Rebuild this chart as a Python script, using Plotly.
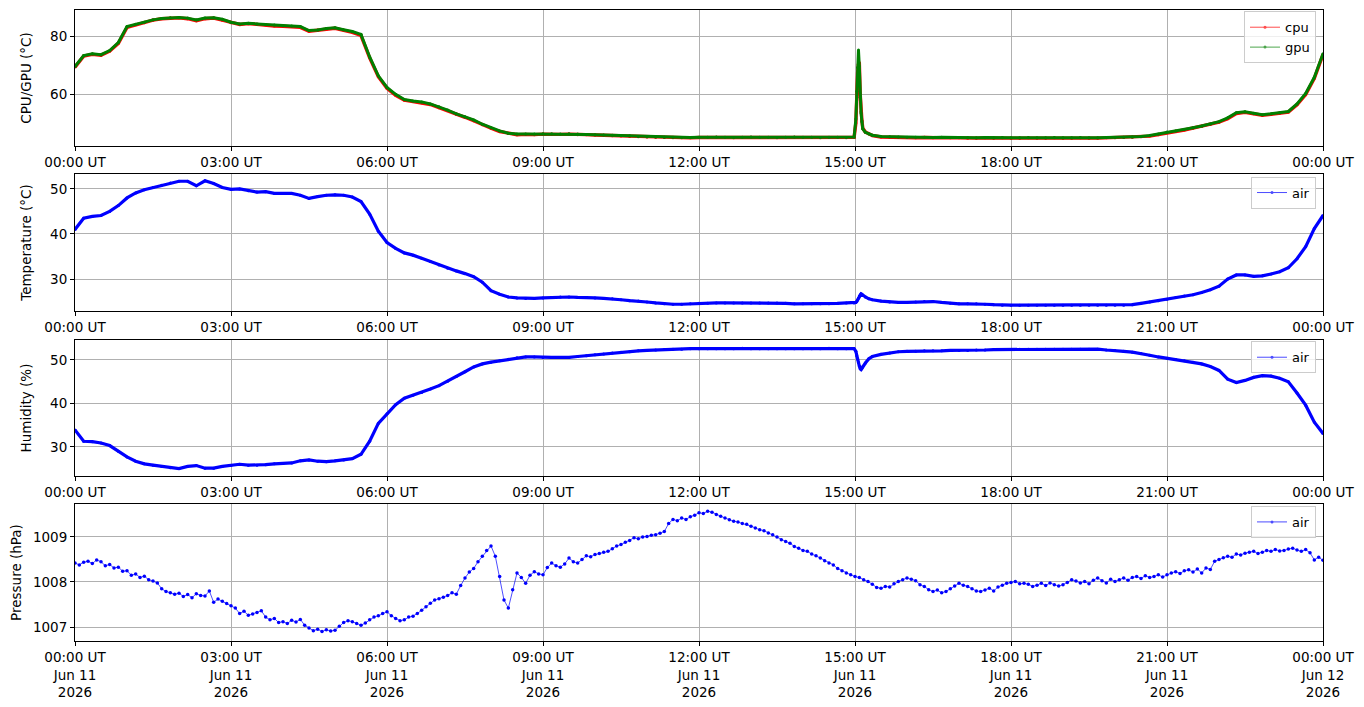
import pandas as pd
import plotly.graph_objects as go

# sample times in minutes after 00:00 UT (10 min steps, denser around the 15:00 spike)
minutes = (list(range(0, 900, 10))
           + [899, 901, 902, 903, 904, 905, 906, 907, 908, 909, 912, 916, 920]
           + list(range(930, 1441, 10)))

cpu = [69.3, 73.1, 73.7, 73.4, 74.8, 77.5,
       83.0, 83.9, 84.6, 85.5, 86.0, 86.2,
       86.3, 86.0, 85.3, 86.0, 86.2, 85.5,
       84.6, 84.0, 84.3, 84.0, 83.8, 83.5,
       83.4, 83.3, 83.0, 81.7, 82.0, 82.4,
       82.7, 82.0, 81.3, 80.2, 72.5, 66.0,
       62.0, 59.6, 57.9, 57.4, 57.0, 56.4,
       55.3, 54.3, 53.0, 52.0, 50.8, 49.4,
       48.2, 47.1, 46.4, 46.0, 46.1, 46.0,
       46.2, 46.1, 46.1, 46.2, 46.0, 46.0,
       45.9, 45.8, 45.6, 45.5, 45.4, 45.3,
       45.2, 45.1, 45.0, 44.9, 44.9, 44.9,
       45.0, 45.0, 45.1, 45.0, 44.9, 45.0,
       45.1, 45.0, 45.0, 44.9, 45.0, 45.1,
       45.0, 45.0, 44.9, 45.0, 45.0, 44.9,
       45.1, 50.0, 60.5, 67.5, 70.3, 70.9, 60.0, 54.0, 50.8, 48.2, 46.9, 46.3, 45.7,
       45.2, 45.1, 45.0,
       45.0, 44.9, 45.0, 44.9, 45.0, 44.9,
       44.9, 44.8, 44.8, 44.9, 44.8, 44.9,
       44.8, 44.8, 44.9, 44.8, 44.8, 44.9,
       44.8, 44.8, 44.9, 44.8, 44.8, 44.9,
       44.9, 45.0, 45.1, 45.3, 45.5, 46.0,
       46.7, 47.1, 47.6, 48.2, 48.8, 49.5,
       50.3, 51.5, 53.3, 53.7, 53.2, 52.7,
       53.0, 53.4, 53.8, 56.3, 59.8, 65.4,
       73.6]

gpu = [69.5, 73.3, 73.9, 73.6, 75.0, 77.8,
       83.3, 84.1, 84.8, 85.6, 86.1, 86.3,
       86.4, 86.2, 85.6, 86.2, 86.3, 85.8,
       84.8, 84.2, 84.4, 84.2, 84.0, 83.8,
       83.6, 83.5, 83.3, 81.9, 82.1, 82.6,
       82.9, 82.2, 81.6, 80.6, 72.8, 66.3,
       62.3, 59.9, 58.1, 57.6, 57.3, 56.6,
       55.6, 54.5, 53.2, 52.2, 51.1, 49.6,
       48.4, 47.3, 46.5, 46.2, 46.2, 46.2,
       46.3, 46.3, 46.2, 46.3, 46.2, 46.1,
       46.0, 45.9, 45.8, 45.7, 45.6, 45.4,
       45.3, 45.2, 45.1, 45.1, 45.0, 45.0,
       45.1, 45.1, 45.2, 45.1, 45.0, 45.1,
       45.2, 45.1, 45.1, 45.0, 45.1, 45.2,
       45.1, 45.1, 45.0, 45.1, 45.1, 45.0,
       45.2, 51.4, 61.0, 69.2, 75.2, 69.6, 58.9, 53.5, 50.5, 48.0, 46.8, 46.2, 45.8,
       45.4, 45.3, 45.2,
       45.1, 45.1, 45.1, 45.0, 45.1, 45.0,
       45.0, 45.0, 44.9, 45.0, 44.9, 45.0,
       44.9, 44.9, 45.0, 44.9, 44.9, 45.0,
       44.9, 44.9, 45.0, 44.9, 44.9, 45.0,
       45.0, 45.1, 45.2, 45.4, 45.7, 46.2,
       46.9, 47.3, 47.8, 48.4, 49.0, 49.7,
       50.5, 51.8, 53.6, 53.9, 53.4, 52.9,
       53.2, 53.6, 54.0, 56.6, 60.2, 65.8,
       73.9]

air_temp = [41.0, 43.5, 43.9, 44.1, 45.0, 46.3,
            48.0, 49.1, 49.8, 50.3, 50.8, 51.3,
            51.7, 51.7, 50.7, 51.8, 51.2, 50.3,
            49.9, 50.0, 49.6, 49.3, 49.4, 49.0,
            49.0, 49.0, 48.6, 47.9, 48.3, 48.6,
            48.7, 48.6, 48.2, 47.2, 44.4, 40.6,
            38.1, 36.8, 35.8, 35.3, 34.6, 33.9,
            33.1, 32.4, 31.8, 31.2, 30.5, 29.3,
            27.4, 26.6, 26.0, 25.8, 25.7, 25.7,
            25.8, 25.9, 26.0, 26.0, 25.9, 25.9,
            25.8, 25.7, 25.6, 25.4, 25.2, 25.1,
            24.9, 24.7, 24.5, 24.4, 24.4, 24.5,
            24.6, 24.6, 24.7, 24.7, 24.7, 24.7,
            24.7, 24.7, 24.7, 24.7, 24.6, 24.5,
            24.5, 24.5, 24.5, 24.5, 24.6, 24.7,
            24.7, 24.8, 25.0, 25.4, 25.8, 26.2, 26.5, 26.7, 26.6, 26.4, 26.0, 25.6, 25.4,
            25.1, 24.9, 24.8,
            24.8, 24.9, 25.0, 25.0, 24.8, 24.6,
            24.5, 24.5, 24.5, 24.4, 24.3, 24.2,
            24.2, 24.2, 24.2, 24.2, 24.2, 24.2,
            24.2, 24.2, 24.2, 24.2, 24.2, 24.2,
            24.2, 24.2, 24.3, 24.6, 24.9, 25.2,
            25.5, 25.9, 26.2, 26.5, 27.0, 27.6,
            28.4, 30.0, 30.9, 30.9, 30.6, 30.7,
            31.1, 31.6, 32.5, 34.5, 37.2, 41.2,
            44.1]

humidity = [33.9, 31.3, 31.2, 30.9, 30.3, 29.0,
            27.7, 26.7, 26.1, 25.8, 25.5, 25.2,
            25.0, 25.5, 25.7, 25.1, 25.1, 25.5,
            25.7, 26.0, 25.8, 25.8, 25.9, 26.1,
            26.2, 26.3, 26.8, 27.0, 26.7, 26.6,
            26.8, 27.0, 27.3, 28.3, 31.3, 35.4,
            37.6, 39.7, 41.2, 41.9, 42.5, 43.3,
            44.1, 45.1, 46.2, 47.3, 48.4, 49.1,
            49.5, 49.8, 50.2, 50.5, 50.7, 50.7,
            50.6, 50.6, 50.6, 50.6, 50.8, 51.0,
            51.2, 51.4, 51.6, 51.8, 51.9, 52.1,
            52.2, 52.3, 52.4, 52.5, 52.5, 52.6,
            52.6, 52.6, 52.6, 52.6, 52.6, 52.7,
            52.6, 52.6, 52.6, 52.6, 52.6, 52.6,
            52.6, 52.6, 52.6, 52.7, 52.6, 52.6,
            52.6, 52.0, 51.0, 50.2, 49.4, 48.6, 48.0, 47.8, 48.1, 48.5, 49.3, 50.3, 50.8,
            51.3, 51.6, 51.9,
            52.0, 52.0, 52.1, 52.1, 52.1, 52.2,
            52.2, 52.2, 52.3, 52.3, 52.4, 52.4,
            52.4, 52.5, 52.5, 52.5, 52.5, 52.5,
            52.5, 52.5, 52.5, 52.5, 52.5, 52.3,
            52.2, 52.0, 51.8, 51.5, 51.1, 50.7,
            50.4, 50.1, 49.8, 49.5, 49.1, 48.5,
            47.6, 45.6, 44.8, 45.3, 46.0, 46.4,
            46.3, 45.8, 45.0, 42.4, 39.6, 35.7,
            33.1]

# pressure read every 5 minutes
pressure_minutes = list(range(0, 1441, 5))
pressure = [1008.42, 1008.38, 1008.44, 1008.46, 1008.41, 1008.49, 1008.45, 1008.36, 1008.39, 1008.31, 1008.33, 1008.24,
            1008.25, 1008.15, 1008.18, 1008.10, 1008.13, 1008.05, 1008.02, 1007.98, 1007.85, 1007.79, 1007.76, 1007.73,
            1007.75, 1007.68, 1007.72, 1007.65, 1007.74, 1007.70, 1007.69, 1007.80, 1007.55, 1007.62, 1007.57, 1007.52,
            1007.47, 1007.42, 1007.30, 1007.35, 1007.26, 1007.29, 1007.32, 1007.36, 1007.22, 1007.16, 1007.19, 1007.10,
            1007.12, 1007.08, 1007.15, 1007.11, 1007.17, 1007.04, 1006.98, 1006.92, 1006.95, 1006.90, 1006.94, 1006.91,
            1006.93, 1007.02, 1007.10, 1007.14, 1007.12, 1007.08, 1007.04, 1007.09, 1007.16, 1007.22, 1007.25, 1007.30,
            1007.34, 1007.25, 1007.19, 1007.14, 1007.16, 1007.22, 1007.24, 1007.30, 1007.37, 1007.45, 1007.53, 1007.60,
            1007.63, 1007.66, 1007.70, 1007.76, 1007.73, 1007.92, 1008.09, 1008.22, 1008.30, 1008.45, 1008.57, 1008.70,
            1008.80, 1008.57, 1008.12, 1007.60, 1007.42, 1007.83, 1008.20, 1008.10, 1007.97, 1008.15, 1008.23, 1008.18,
            1008.16, 1008.32, 1008.42, 1008.36, 1008.33, 1008.40, 1008.53, 1008.45, 1008.42, 1008.50, 1008.58, 1008.56,
            1008.61, 1008.63, 1008.66, 1008.68, 1008.74, 1008.80, 1008.83, 1008.88, 1008.92, 1008.98, 1008.96, 1009.00,
            1009.01, 1009.04, 1009.05, 1009.08, 1009.12, 1009.30, 1009.39, 1009.36, 1009.42, 1009.39, 1009.45, 1009.48,
            1009.54, 1009.52, 1009.57, 1009.55, 1009.50, 1009.46, 1009.42, 1009.38, 1009.35, 1009.33, 1009.30, 1009.28,
            1009.24, 1009.20, 1009.16, 1009.14, 1009.09, 1009.05, 1009.00, 1008.94, 1008.90, 1008.86, 1008.79, 1008.75,
            1008.70, 1008.68, 1008.62, 1008.58, 1008.53, 1008.47, 1008.42, 1008.38, 1008.30, 1008.25, 1008.20, 1008.16,
            1008.12, 1008.10, 1008.05, 1008.01, 1007.95, 1007.88, 1007.86, 1007.90, 1007.89, 1007.96, 1008.01, 1008.05,
            1008.09, 1008.06, 1008.03, 1007.94, 1007.90, 1007.83, 1007.79, 1007.82, 1007.76, 1007.79, 1007.85, 1007.91,
            1007.97, 1007.93, 1007.90, 1007.85, 1007.80, 1007.79, 1007.82, 1007.86, 1007.80, 1007.89, 1007.93, 1007.97,
            1007.99, 1008.01, 1007.96, 1007.97, 1007.95, 1007.90, 1007.93, 1007.97, 1007.92, 1007.98, 1007.94, 1007.91,
            1007.94, 1007.99, 1008.05, 1008.02, 1007.98, 1008.01, 1007.96, 1008.04, 1008.09, 1008.03, 1007.98, 1008.06,
            1008.01, 1008.05, 1008.09, 1008.04, 1008.10, 1008.12, 1008.08, 1008.14, 1008.10, 1008.12, 1008.16, 1008.11,
            1008.16, 1008.20, 1008.23, 1008.19, 1008.25, 1008.27, 1008.22, 1008.29, 1008.20, 1008.31, 1008.28, 1008.46,
            1008.50, 1008.54, 1008.57, 1008.55, 1008.62, 1008.60, 1008.64, 1008.66, 1008.68, 1008.63, 1008.66, 1008.70,
            1008.68, 1008.72, 1008.69, 1008.70, 1008.73, 1008.75, 1008.71, 1008.68, 1008.72, 1008.65, 1008.49, 1008.55,
            1008.48]

tick_hours = [0, 3, 6, 9, 12, 15, 18, 21, 24]
tick_text = ["00:00 UT", "03:00 UT", "06:00 UT", "09:00 UT", "12:00 UT",
             "15:00 UT", "18:00 UT", "21:00 UT", "00:00 UT"]
tick_dates = ["Jun 11", "Jun 11", "Jun 11", "Jun 11", "Jun 11",
              "Jun 11", "Jun 11", "Jun 11", "Jun 12"]
tick_year = "2026"

day = pd.Timestamp("2026-06-11 00:00")
t = day + pd.to_timedelta(minutes, unit="m")
tp = day + pd.to_timedelta(pressure_minutes, unit="m")
tick_vals = [day + pd.Timedelta(hours=h) for h in tick_hours]

FONT = "DejaVu Sans, Liberation Sans, sans-serif"
RED, GREEN, BLUE = "#ff0000", "#008000", "#0000ff"

fig = go.Figure()


def add_series(x, y, color, name, axis, legend, width, msize):
    fig.add_trace(go.Scatter(x=x, y=y, mode="lines+markers", name=name,
                             line=dict(color=color, width=width),
                             marker=dict(color=color, size=msize),
                             xaxis="x" + axis, yaxis="y" + axis,
                             showlegend=False))
    # thin entry for the legend only
    fig.add_trace(go.Scatter(x=[None], y=[None], mode="lines+markers", name=name,
                             line=dict(color=color, width=1), opacity=0.7,
                             marker=dict(color=color, size=3),
                             xaxis="x" + axis, yaxis="y" + axis,
                             legend=legend))


add_series(t, cpu, RED, "cpu", "", "legend", 3.4, 3)
add_series(t, gpu, GREEN, "gpu", "", "legend", 3, 3)
add_series(t, air_temp, BLUE, "air", "2", "legend2", 3.2, 3)
add_series(t, humidity, BLUE, "air", "3", "legend3", 3.2, 3)
add_series(tp, pressure, BLUE, "air", "4", "legend4", 0.7, 3.5)

domains = [[0.7845, 1.0], [0.523, 0.740], [0.2615, 0.477], [0.0, 0.217]]
y_ranges = [[42.1, 89.0], [22.9, 53.3], [23.3, 54.6], [1006.69, 1009.73]]
y_ticks = [[60, 80], [30, 40, 50], [30, 40, 50], [1007, 1008, 1009]]
y_titles = ["CPU/GPU (°C)", "Temperature (°C)", "Humidity (%)", "Pressure (hPa)"]
legend_tops = [0.998, 0.736, 0.475, 0.214]

# the page body adds an 8px margin, so the figure is trimmed by that much
layout = dict(width=1348, height=691, plot_bgcolor="white", paper_bgcolor="white",
              margin=dict(l=67, r=33, t=2, b=58),
              font=dict(family=FONT, size=13.5, color="black"))

for i in range(4):
    sfx = "" if i == 0 else str(i + 1)
    if i == 3:
        text = [f"{a}<br>{d}<br>{tick_year}" for a, d in zip(tick_text, tick_dates)]
    else:
        text = tick_text
    layout["xaxis" + sfx] = dict(
        domain=[0, 1], anchor="y" + sfx, type="date", automargin=False,
        range=[tick_vals[0], tick_vals[-1]],
        tickvals=tick_vals, ticktext=text,
        showgrid=True, gridcolor="#b0b0b0", gridwidth=1,
        showline=True, linecolor="black", linewidth=1, mirror=True,
        ticks="outside", ticklen=4, tickcolor="black", zeroline=False)
    layout["yaxis" + sfx] = dict(
        domain=domains[i], anchor="x" + sfx, range=y_ranges[i], automargin=False,
        tickvals=y_ticks[i], title=dict(text=y_titles[i], font=dict(size=13.5)),
        showgrid=True, gridcolor="#b0b0b0", gridwidth=1,
        showline=True, linecolor="black", linewidth=1, mirror=True,
        ticks="outside", ticklen=4, tickcolor="black", zeroline=False)
    layout["legend" + sfx] = dict(
        x=0.9944, y=legend_tops[i], xanchor="right", yanchor="top",
        bgcolor="rgba(255,255,255,0.8)", bordercolor="#cccccc", borderwidth=1,
        font=dict(family=FONT, size=13), itemwidth=30, tracegroupgap=0)

fig.update_layout(**layout)
fig.write_html("out.html")
